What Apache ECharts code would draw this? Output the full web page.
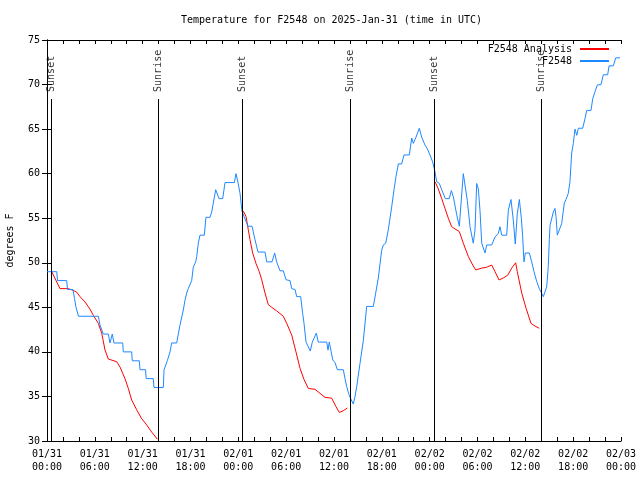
<!DOCTYPE html>
<html>
<head>
<meta charset="utf-8">
<script src="https://cdn.jsdelivr.net/npm/echarts@6/dist/echarts.min.js"></script>
<style>html,body{margin:0;padding:0;background:#fff;}#c{width:640px;height:480px;}</style>
</head>
<body>
<div id="c"></div>
<script>
// Hours since 2025-01-31 00:00 UTC
const obsHours = [0,1.22,1.32,2.47,2.57,3.26,3.45,3.64,3.95,6.44,6.65,7.06,7.69,7.90,8.19,8.40,9.50,9.57,10.62,10.70,11.58,11.67,12.36,12.44,13.33,13.42,14.59,14.68,14.84,15.09,15.43,15.64,16.27,16.47,16.68,17.10,17.31,17.52,17.72,18.15,18.35,18.65,18.78,18.98,19.19,19.73,19.94,20.45,20.66,20.86,21.16,21.41,21.58,22.04,22.33,23.50,23.71,23.96,24.21,24.46,24.71,24.96,25.21,25.72,26.09,26.47,27.35,27.56,28.22,28.56,28.81,29.23,29.64,29.98,30.48,30.69,31.11,31.32,31.82,32.07,32.24,32.49,32.74,33.03,33.28,33.53,33.78,34.03,35.09,35.25,35.41,35.59,35.84,36.13,36.42,37.17,37.38,37.59,37.88,38.17,38.42,38.64,38.85,39.26,39.68,40.10,40.93,41.23,41.56,41.98,42.19,42.49,42.81,43.24,43.53,43.78,44.07,44.49,44.78,45.45,45.75,45.95,46.29,46.70,47.00,47.42,47.70,48.04,48.38,48.67,48.88,49.21,49.51,49.71,49.96,50.46,50.72,50.97,51.39,51.72,51.97,52.22,52.47,52.72,53.06,53.47,53.69,53.90,54.10,54.31,54.53,54.94,55.16,55.78,56.20,56.61,56.82,57.04,57.66,57.87,58.20,58.49,58.74,58.99,59.25,59.50,59.67,59.83,60.00,60.50,60.80,61.09,61.43,61.75,61.93,62.26,62.51,62.68,62.88,63.01,63.10,63.51,63.72,63.85,64.01,64.26,64.56,64.89,65.10,65.39,65.60,65.81,66.02,66.23,66.45,66.65,67.20,67.49,67.70,68.24,68.45,68.74,69.03,69.49,69.78,70.33,70.50,71.04,71.34,71.88];
const obsTemps = [49,49,48,48,47,47,46,45,44,44,43,42,42,41,42,41,41,40,40,39,39,38,38,37,37,36,36,38,38,39,40,41,41,42,43,44.7,45.8,46.6,47.1,48,49.5,50.1,50.7,52.2,53.1,53.1,55.1,55.1,55.7,56.7,58.2,57.6,57.2,57.2,59,59,60,59,57.8,55.8,55.2,55,54.1,54.1,52.6,51.2,51.2,50.1,50.1,51.1,50.1,49.1,49.1,48.1,48,47.1,47,46.2,46.2,44.3,43.2,41.1,41.1,40.1,41.1,41.1,42.1,41.1,41.1,40.2,41.1,41,39.1,38.8,38,38,37,36.1,35.2,34.6,34.15,35,36.1,38.7,41.3,45.1,45.1,46.6,48.3,51.4,52,52.2,53.7,56.3,58.2,59.7,61.1,61.1,62.1,62.1,64,63.4,64.1,65.1,64.1,63.2,62.8,62.1,61.3,60.2,59.1,58.9,58.2,58.0,57.2,57.2,58.1,57.4,55.4,54.1,54.1,60,60,57,54.05,52.2,53.7,58.9,58.3,55.9,52.2,51.1,52,52,52.9,53.3,54.05,53.1,53.1,55.9,57.1,54.8,52.1,55.5,57.1,55,52.9,50.1,51.1,51.1,50.1,49,47.9,47.1,47,46.2,46.2,47.3,49.6,52.6,54.2,55.7,56.1,55.2,53.1,53.1,54.4,56.7,57.1,57.8,59.1,62.3,63.4,65,64.3,65.1,65.1,66.2,67.1,67.1,68.4,69.2,69.95,70,71.1,71.1,72.1,72.1,73,73];

// Analysis series: null marks a gap between night segments
const anaHours = [0.59,1.63,2.67,3.30,3.73,4.14,4.77,5.39,5.81,6.44,6.86,7.28,7.69,8.74,9.16,9.78,10.20,10.62,11.25,11.88,12.51,13.13,13.85, null,
  24.62,24.96,25.25,25.46,25.80,26.22,26.63,26.93,27.35,27.76,28.19,28.81,29.64,30.07,30.69,31.23,31.74,32.24,32.78,33.62,34.24,34.87,35.71,36.25,36.67,37.17,37.67, null,
  48.67,49.08,49.51,49.92,50.34,50.76,51.18,51.72,52.22,52.85,53.40,53.78,54.53,55.16,55.78,56.20,56.70,57.24,57.79,58.29,58.79,58.99,59.55,60.09,60.71,61.21,61.75];
const anaTemps = [49,47.1,47.1,46.9,46.7,46.2,45.6,44.8,44.1,43.2,42.1,40.2,39.2,38.9,38.3,37,35.9,34.6,33.5,32.5,31.8,31,30.2, null,
  55.8,55.2,53.7,52.6,51.1,49.9,49,48.1,46.6,45.3,45,44.6,44,43.2,41.9,40,38.15,36.9,35.9,35.8,35.35,34.9,34.8,33.85,33.2,33.4,33.7, null,
  59.1,58.3,57.2,56.1,55,54.05,53.8,53.5,52.2,50.7,49.75,49.2,49.4,49.5,49.75,49,48.07,48.3,48.6,49.4,50,49,46.6,44.9,43.2,42.9,42.65];

const sunHours = [0.59, 13.97, 24.5, 38.05, 48.58, 62.0];
const sunLabels = ['Sunset','Sunrise','Sunset','Sunrise','Sunset','Sunrise'];
const sunLineTop = 68.38;
const sunLabelAt = 69.17;

const xTickDates = ['01/31','01/31','01/31','01/31','02/01','02/01','02/01','02/01','02/02','02/02','02/02','02/02','02/03'];
const xTickTimes = ['00:00','06:00','12:00','18:00','00:00','06:00','12:00','18:00','00:00','06:00','12:00','18:00','00:00'];

const titleText = 'Temperature for F2548 on 2025-Jan-31 (time in UTC)';
const yName = 'degrees F';
const obsName = 'F2548';
const anaName = 'F2548 Analysis';

const FONT = 'DejaVu Sans Mono';
const obsData = obsHours.map((h, i) => [h, obsTemps[i]]);
const anaData = anaHours.map((h, i) => (h === null ? ['-', null] : [h, anaTemps[i]]));
const sunPts = sunHours.map((h, i) => ({ value: [h, sunLabelAt], name: sunLabels[i] }));
const sunLines = sunHours.map(h => [{ coord: [h, 30] }, { coord: [h, sunLineTop] }]);

const baseX = {
  type: 'value', min: 0, max: 72, interval: 6,
  axisLine: { show: true, lineStyle: { color: '#000', width: 1 } },
  axisTick: { show: true, inside: true, length: 4, lineStyle: { color: '#000' } },
  minorTick: { show: true, splitNumber: 3, length: 4, lineStyle: { color: '#000' } },
  splitLine: { show: false }, minorSplitLine: { show: false }
};
const baseY = {
  type: 'value', min: 30, max: 75, interval: 5,
  axisLine: { show: true, lineStyle: { color: '#000', width: 1 } },
  axisTick: { show: true, inside: true, length: 5, lineStyle: { color: '#000' } },
  splitLine: { show: false }
};

const legendCommon = {
  right: 30, padding: 0, align: 'right', itemWidth: 29, itemHeight: 12,
  itemStyle: { opacity: 0 },
  textStyle: { fontFamily: FONT, fontSize: 10, color: '#000', padding: [0, 3, 0, 0] }
};

const chart = echarts.init(document.getElementById('c'), null, { renderer: 'canvas' });
chart.setOption({
  animation: false,
  backgroundColor: '#fff',
  title: {
    text: titleText, left: 181, top: 15, padding: 0,
    textStyle: { fontFamily: FONT, fontSize: 10, fontWeight: 'normal', color: '#000' }
  },
  legend: [
    Object.assign({}, legendCommon, { data: [anaName], top: 44 }),
    Object.assign({}, legendCommon, { data: [obsName], top: 56 })
  ],
  grid: { left: 47, right: 19, top: 40, bottom: 39, containLabel: false, outerBoundsMode: 'none' },
  xAxis: [
    Object.assign({}, baseX, {
      position: 'bottom',
      axisLabel: {
        show: true, margin: 7, color: '#000', fontFamily: FONT, fontSize: 10, lineHeight: 13,
        formatter: v => { const i = Math.round(v / 6); return xTickDates[i] + '\n' + xTickTimes[i]; }
      }
    }),
    Object.assign({}, baseX, { position: 'top', axisLabel: { show: false } })
  ],
  yAxis: [
    Object.assign({}, baseY, {
      position: 'left',
      name: yName, nameLocation: 'middle', nameRotate: 90, nameGap: 32,
      nameTextStyle: { fontFamily: FONT, fontSize: 10, color: '#000' },
      axisLabel: { show: true, margin: 7, color: '#000', fontFamily: FONT, fontSize: 10 }
    }),
    Object.assign({}, baseY, { position: 'right', axisLabel: { show: false } })
  ],
  series: [
    {
      name: anaName, type: 'line', data: anaData, xAxisIndex: 0, yAxisIndex: 0,
      symbol: 'none', showSymbol: false, connectNulls: false,
      lineStyle: { color: '#ff0000', width: 1 }, itemStyle: { color: '#ff0000' }, z: 3
    },
    {
      name: obsName, type: 'line', data: obsData, xAxisIndex: 0, yAxisIndex: 0,
      symbol: 'none', showSymbol: false,
      lineStyle: { color: '#1e88ff', width: 1 }, itemStyle: { color: '#1e88ff' }, z: 4
    },
    {
      name: 'sun', type: 'scatter', data: sunPts, xAxisIndex: 0, yAxisIndex: 0,
      symbolSize: 0, silent: true, z: 5,
      label: {
        show: true, position: 'inside', rotate: 90, align: 'left', verticalAlign: 'middle',
        formatter: p => p.name, fontFamily: FONT, fontSize: 10, color: '#000'
      },
      markLine: {
        silent: true, symbol: ['none', 'none'], animation: false,
        label: { show: false },
        lineStyle: { color: '#000', width: 1, type: 'solid' },
        data: sunLines
      }
    }
  ]
});
</script>
</body>
</html>
